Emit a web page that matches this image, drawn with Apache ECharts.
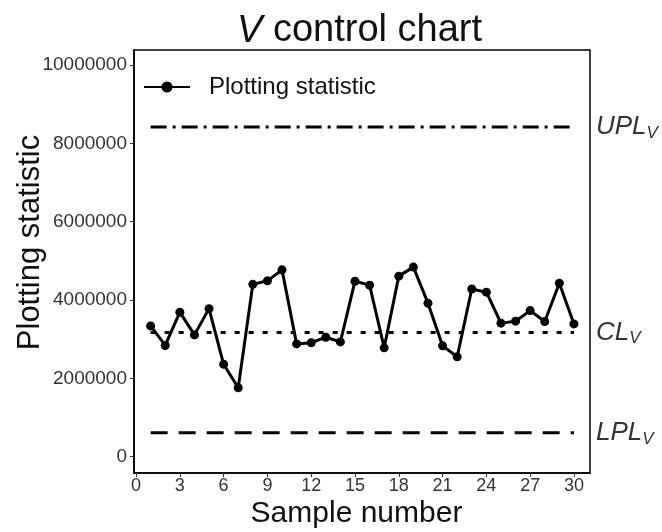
<!DOCTYPE html>
<html>
<head>
<meta charset="utf-8">
<script src="https://cdn.jsdelivr.net/npm/echarts@6/dist/echarts.min.js"></script>
<style>
  html, body { margin: 0; padding: 0; background: #fff; }
  #chart { width: 662px; height: 532px; }
</style>
</head>
<body>
<div id="chart"></div>
<script>
// Sample numbers and the plotted V statistic for each sample
const samples = [1,2,3,4,5,6,7,8,9,10,11,12,13,14,15,16,17,18,19,20,21,22,23,24,25,26,27,28,29,30];
const statistic = [3340000, 2840000, 3690000, 3110000, 3780000, 2360000, 1760000, 4400000, 4490000, 4770000,
                   2880000, 2910000, 3050000, 2930000, 4480000, 4380000, 2780000, 4610000, 4840000, 3920000,
                   2830000, 2550000, 4280000, 4200000, 3410000, 3460000, 3730000, 3450000, 4430000, 3390000];

// Control limits
const UPL = 8420000;
const CL = 3170000;
const LPL = 610000;

// Tick labels
const xTicks = [0,3,6,9,12,15,18,21,24,27,30];
const yTicks = [0,2000000,4000000,6000000,8000000,10000000];

const FONT = 'Liberation Sans, Arial, sans-serif';
const first = samples[0], last = samples[samples.length - 1];

// Horizontal limit line spanning the samples, labelled at its right end
const limitLine = (name, value, type) => ({
  name: name,
  type: 'line',
  data: [[first, value], [last, value]],
  symbol: 'none',
  silent: true,
  lineStyle: { color: '#000', width: 3, type: type },
  endLabel: {
    show: true,
    distance: 22,
    formatter: '{a|' + name + '}{b|V}',
    rich: {
      a: { fontFamily: FONT, fontStyle: 'italic', fontSize: 26, color: '#333' },
      b: { fontFamily: FONT, fontStyle: 'italic', fontSize: 17, color: '#333', padding: [12, 0, 0, 0] }
    }
  },
  z: 1
});

const chart = echarts.init(document.getElementById('chart'));
chart.setOption({
  animation: false,
  backgroundColor: '#fff',
  textStyle: { fontFamily: FONT },
  title: {
    text: '{i|V} control chart',
    left: 232, top: 7,
    textStyle: {
      fontSize: 38, fontWeight: 'normal', color: '#111', fontFamily: FONT,
      rich: {
        i: { fontSize: 38, fontStyle: 'italic', color: '#111', fontFamily: FONT }
      }
    }
  },
  legend: {
    data: ['Plotting statistic'],
    left: 138, top: 70,
    itemWidth: 46, itemHeight: 14,
    textStyle: { fontSize: 24, color: '#111', padding: [0, 0, 0, 14] }
  },
  grid: {
    left: 134, top: 50, right: 72, bottom: 59,
    outerBoundsMode: 'none',
    show: true, borderColor: '#000', borderWidth: 1.5
  },
  xAxis: {
    type: 'value',
    min: -0.14, max: 31.1,
    name: 'Sample number',
    nameLocation: 'middle', nameGap: 26,
    nameMoveOverlap: false,
    nameTextStyle: { fontSize: 30, color: '#111', padding: [0, 11, 0, 0] },
    axisLine: { show: true, onZero: false, lineStyle: { color: '#000', width: 1.5 } },
    axisTick: { show: true, length: 4, customValues: xTicks, lineStyle: { color: '#333' } },
    axisLabel: { customValues: xTicks, fontSize: 18, color: '#333', margin: 4 },
    splitLine: { show: false }
  },
  yAxis: {
    type: 'value',
    min: -416000, max: 10383000,
    name: 'Plotting statistic',
    nameLocation: 'middle', nameGap: 88,
    nameMoveOverlap: false,
    nameTextStyle: { fontSize: 31, color: '#111', padding: [0, 0, 0, 38] },
    axisLine: { show: true, onZero: false, lineStyle: { color: '#000', width: 1.5 } },
    axisTick: { show: true, length: 4, customValues: yTicks, lineStyle: { color: '#333' } },
    axisLabel: { customValues: yTicks, fontSize: 19, color: '#333', margin: 7, formatter: v => String(v) },
    splitLine: { show: false }
  },
  series: [
    {
      name: 'Plotting statistic',
      type: 'line',
      data: samples.map((s, i) => [s, statistic[i]]),
      symbol: 'circle',
      symbolSize: 9,
      itemStyle: { color: '#000' },
      lineStyle: { color: '#000', width: 3 },
      z: 3
    },
    limitLine('UPL', UPL, [16, 6, 3, 6]),
    limitLine('CL', CL, [5, 9]),
    limitLine('LPL', LPL, [17, 11])
  ]
});
</script>
</body>
</html>
